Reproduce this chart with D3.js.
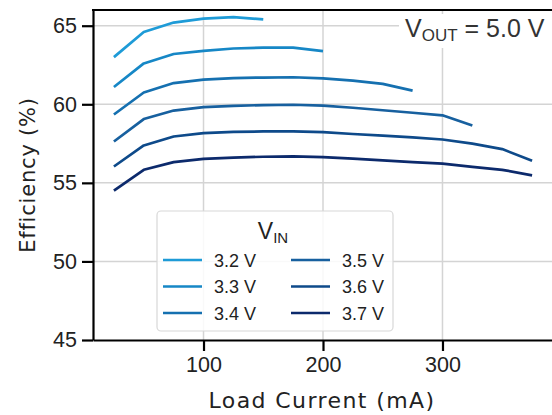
<!DOCTYPE html>
<html>
<head>
<meta charset="utf-8">
<script src="https://cdn.jsdelivr.net/npm/d3@7"></script>
<style>
  body { margin: 0; background: #fff; }
  svg { display: block; }
</style>
</head>
<body>
<script>
var width = 552, height = 415;

// data
var loadCurrent = [25, 50, 75, 100, 125, 150, 175, 200, 225, 250, 275, 300, 325, 350, 375];
var vinLabels = ["3.2 V", "3.3 V", "3.4 V", "3.5 V", "3.6 V", "3.7 V"];
var eff32 = [63.0, 64.6, 65.2, 65.45, 65.55, 65.4];
var eff33 = [61.1, 62.6, 63.2, 63.4, 63.55, 63.6, 63.6, 63.38];
var eff34 = [59.35, 60.75, 61.35, 61.57, 61.67, 61.7, 61.72, 61.65, 61.5, 61.3, 60.87];
var eff35 = [57.63, 59.06, 59.6, 59.82, 59.9, 59.95, 59.97, 59.92, 59.78, 59.62, 59.46, 59.3, 58.65];
var eff36 = [56.04, 57.38, 57.95, 58.17, 58.25, 58.27, 58.27, 58.23, 58.11, 58.0, 57.9, 57.76, 57.5, 57.15, 56.4];
var eff37 = [54.51, 55.83, 56.32, 56.53, 56.61, 56.66, 56.68, 56.64, 56.54, 56.43, 56.32, 56.22, 56.02, 55.83, 55.48];
var xTicks = [100, 200, 300];
var yTicks = [45, 50, 55, 60, 65];
var colors = ["#1e9bd7", "#1687c6", "#1570b0", "#17609f", "#0e4a8a", "#0c2a6c"];

var allSeries = [eff32, eff33, eff34, eff35, eff36, eff37];

var margin = {left: 93, top: 10, right: -1, bottom: 75};

var svg = d3.select("body").append("svg")
    .attr("width", width)
    .attr("height", height);

var x = d3.scaleLinear().domain([7.5, 392.5]).range([margin.left, width - margin.right]);
var y = d3.scaleLinear().domain([45, 66]).range([height - margin.bottom, margin.top]);

// grid
svg.append("g").selectAll("line").data(xTicks).join("line")
    .attr("x1", d => x(d)).attr("x2", d => x(d))
    .attr("y1", y(66)).attr("y2", y(45))
    .attr("stroke", "#d4d4d4").attr("stroke-width", 1.5);
svg.append("g").selectAll("line").data(yTicks.slice(1)).join("line")
    .attr("x1", x(7.5)).attr("x2", x(392.5))
    .attr("y1", d => y(d)).attr("y2", d => y(d))
    .attr("stroke", "#d4d4d4").attr("stroke-width", 1.5);

// lines
var line = d3.line()
    .x((d, i) => x(loadCurrent[i]))
    .y(d => y(d));

svg.append("g").selectAll("path").data(allSeries).join("path")
    .attr("d", d => line(d))
    .attr("fill", "none")
    .attr("stroke", (d, i) => colors[i])
    .attr("stroke-width", 2.7)
    .attr("stroke-linejoin", "round");

// axes
var xAxis = svg.append("g")
    .attr("transform", "translate(0," + y(45) + ")")
    .call(d3.axisBottom(x).tickValues(xTicks).tickSize(11).tickPadding(6).tickSizeOuter(0));
var yAxis = svg.append("g")
    .attr("transform", "translate(" + x(7.5) + ",0)")
    .call(d3.axisLeft(y).tickValues(yTicks).tickSize(11).tickPadding(5).tickSizeOuter(0));

[xAxis, yAxis].forEach(function(a) {
  a.select(".domain").attr("stroke", "#000").attr("stroke-width", 2.2);
  a.selectAll(".tick line").attr("stroke", "#000").attr("stroke-width", 2.2);
  a.selectAll(".tick text").attr("fill", "#222").attr("font-size", 21.5)
    .attr("font-family", "Liberation Sans, Arial, sans-serif");
});

// top spine
svg.append("line")
    .attr("x1", x(7.5) - 1).attr("x2", width)
    .attr("y1", y(66)).attr("y2", y(66))
    .attr("stroke", "#000").attr("stroke-width", 2.2);

// axis titles
svg.append("text")
    .attr("x", 322).attr("y", 408)
    .attr("text-anchor", "middle")
    .attr("font-family", "DejaVu Sans, sans-serif")
    .attr("font-size", 22)
    .attr("letter-spacing", 1.4)
    .attr("fill", "#222")
    .text("Load Current (mA)");

svg.append("text")
    .attr("transform", "translate(35,175) rotate(-90)")
    .attr("text-anchor", "middle")
    .attr("font-family", "DejaVu Sans, sans-serif")
    .attr("font-size", 21)
    .attr("letter-spacing", 0.8)
    .attr("fill", "#222")
    .text("Efficiency (%)");

// VOUT annotation
svg.append("rect")
    .attr("x", 399).attr("y", 14).attr("width", 153).attr("height", 34)
    .attr("fill", "#fff");
var vout = svg.append("text")
    .attr("x", 405).attr("y", 37)
    .attr("font-family", "Liberation Sans, Arial, sans-serif")
    .attr("font-size", 25)
    .attr("fill", "#333");
vout.append("tspan").text("V");
vout.append("tspan").attr("font-size", 17).attr("dy", 4).text("OUT");
vout.append("tspan").attr("dy", -4).text(" = 5.0 V");

// legend
var lg = svg.append("g");
lg.append("rect")
    .attr("x", 157).attr("y", 211).attr("width", 236).attr("height", 120)
    .attr("rx", 4)
    .attr("fill", "#fff").attr("fill-opacity", 0.85)
    .attr("stroke", "#d8d8d8").attr("stroke-width", 1.2);
var lt = lg.append("text")
    .attr("x", 273).attr("y", 239)
    .attr("text-anchor", "middle")
    .attr("font-family", "Liberation Sans, Arial, sans-serif")
    .attr("font-size", 23)
    .attr("fill", "#222");
lt.append("tspan").text("V");
lt.append("tspan").attr("font-size", 15).attr("dy", 4).text("IN");

var items = lg.selectAll("g.item").data(vinLabels).join("g")
    .attr("class", "item")
    .attr("transform", (d, i) => "translate(" + (i < 3 ? 163 : 291) + "," + (260 + (i % 3) * 26.5) + ")");
items.append("line")
    .attr("x1", 0).attr("x2", 39)
    .attr("stroke", (d, i) => colors[i])
    .attr("stroke-width", 2.6);
items.append("text")
    .attr("x", 51).attr("y", 6.5)
    .attr("font-family", "Liberation Sans, Arial, sans-serif")
    .attr("font-size", 18)
    .attr("fill", "#222")
    .text(d => d);
</script>
</body>
</html>
